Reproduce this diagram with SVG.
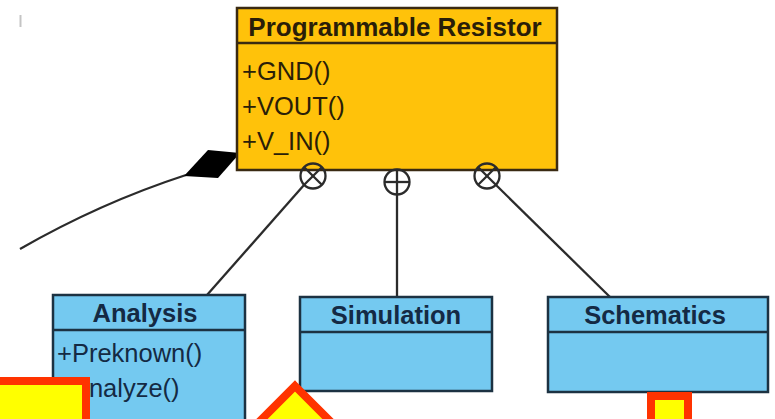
<svg xmlns="http://www.w3.org/2000/svg" width="775" height="419" viewBox="0 0 775 419">
  <style>
    .cls-y { fill: #FFC20A; stroke: #3a2a12; stroke-width: 2.5; }
    .cls-b { fill: #74C9F0; stroke: #1c3242; stroke-width: 2.5; }
    .div-y { stroke: #3a2a12; stroke-width: 2.5; }
    .div-b { stroke: #1c3242; stroke-width: 2.5; }
    .title { font-family: "Liberation Sans", Arial, sans-serif; font-weight: bold; font-size: 25.5px; text-anchor: middle; }
    .op { font-family: "Liberation Sans", Arial, sans-serif; font-size: 25.5px; }
    .ty { fill: #2a1e08; }
    .tb { fill: #142a44; }
    .conn { stroke: #2b2b2b; stroke-width: 2.3; fill: none; }
    .mark { stroke: #FF3300; stroke-width: 8; fill: #FFFF00; }
  </style>

  <!-- small stray tick -->
  <line x1="20.5" y1="15" x2="20.5" y2="27" stroke="#c4c4c4" stroke-width="2"/>

  <g id="connectors">
    <!-- composition from the left -->
    <path class="conn" d="M186,175 Q100,203 20,249"/>
    <polygon points="184,176 208,150 240,153 218,178" fill="#000"/>
    <!-- nested links -->
    <line class="conn" x1="304" y1="185" x2="207" y2="295"/>
    <line class="conn" x1="397" y1="170" x2="397" y2="297"/>
    <line class="conn" x1="496" y1="185" x2="610" y2="297"/>
  </g>

  <g id="programmable-resistor">
    <rect class="cls-y" x="237" y="8" width="320" height="162"/>
    <line class="div-y" x1="237" y1="43" x2="557" y2="43"/>
    <text class="title ty" x="395" y="36" style="font-size:26px">Programmable Resistor</text>
    <text class="op ty" x="242" y="80">+GND()</text>
    <text class="op ty" x="242" y="115">+VOUT()</text>
    <text class="op ty" x="242" y="150">+V_IN()</text>
  </g>

  <g id="nest-marks" fill="none" stroke="#2b2b2b" stroke-width="2.3">
    <circle cx="313" cy="176" r="12.5" fill="none"/>
    <line x1="304.2" y1="167.2" x2="321.8" y2="184.8"/>
    <line x1="321.8" y1="167.2" x2="304.2" y2="184.8"/>
    <circle cx="397" cy="182" r="12.5" fill="none"/>
    <line x1="384.5" y1="182" x2="409.5" y2="182"/>
    <circle cx="487" cy="176" r="12.5" fill="none"/>
    <line x1="478.2" y1="167.2" x2="495.8" y2="184.8"/>
    <line x1="495.8" y1="167.2" x2="478.2" y2="184.8"/>
  </g>

  <g id="analysis">
    <rect class="cls-b" x="53" y="295" width="192" height="140"/>
    <line class="div-b" x1="53" y1="330" x2="245" y2="330"/>
    <text class="title tb" x="145" y="322">Analysis</text>
    <text class="op tb" x="57" y="362">+Preknown()</text>
    <text class="op tb" x="57" y="397">+Analyze()</text>
  </g>

  <g id="simulation">
    <rect class="cls-b" x="300" y="297" width="192" height="94"/>
    <line class="div-b" x1="300" y1="332" x2="492" y2="332"/>
    <text class="title tb" x="396" y="324">Simulation</text>
  </g>

  <g id="schematics">
    <rect class="cls-b" x="548" y="297" width="220" height="95"/>
    <line class="div-b" x1="548" y1="332" x2="768" y2="332"/>
    <text class="title tb" x="655" y="324">Schematics</text>
  </g>

  <g id="highlights">
    <rect class="mark" x="-20" y="381" width="106" height="60"/>
    <path class="mark" d="M295,386 L345,436 L295,486 L245,436 Z"/>
    <rect class="mark" x="651" y="396" width="37" height="40"/>
  </g>
</svg>
